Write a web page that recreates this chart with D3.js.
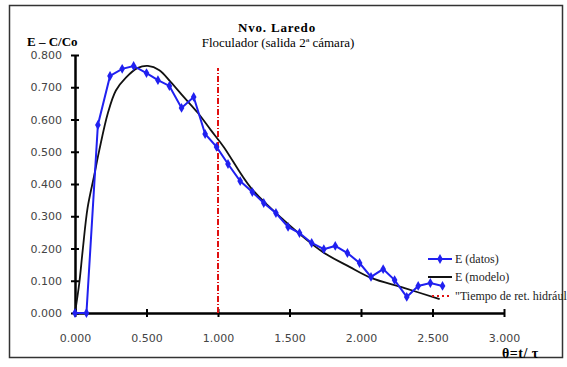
<!DOCTYPE html>
<html><head><meta charset="utf-8">
<script src="https://cdn.jsdelivr.net/npm/d3@7"></script>
<style>body{margin:0;background:#fff;}svg{display:block;}</style>
</head><body>
<svg id="c" width="567" height="367"></svg>
<script>
const datosX = [0,0.08,0.16,0.245,0.33,0.41,0.50,0.58,0.66,0.745,0.83,0.91,0.99,1.07,1.155,1.24,1.32,1.405,1.49,1.57,1.655,1.74,1.82,1.905,1.99,2.07,2.155,2.235,2.32,2.40,2.485,2.57];
const datosY = [0,0,0.583,0.735,0.757,0.766,0.744,0.722,0.704,0.636,0.670,0.555,0.515,0.462,0.409,0.375,0.341,0.310,0.267,0.248,0.217,0.198,0.208,0.186,0.155,0.112,0.136,0.102,0.050,0.084,0.093,0.084];
const modeloX = [0,0.03,0.054,0.088,0.135,0.17,0.23,0.286,0.356,0.44,0.51,0.59,0.67,0.76,0.86,0.95,1.04,1.23,1.46,1.73,1.92,2.07,2.30,2.55];
const modeloY = [0,0.093,0.195,0.326,0.428,0.505,0.62,0.69,0.73,0.76,0.766,0.753,0.716,0.67,0.62,0.567,0.515,0.388,0.288,0.19,0.143,0.109,0.078,0.043];
const tiempoX = [1.0,1.0];
const tiempoY = [0,0.76];
const xTicks = [0,0.5,1.0,1.5,2.0,2.5,3.0];
const yTicks = [0,0.1,0.2,0.3,0.4,0.5,0.6,0.7,0.8];
const legendLabels = ["E (datos)","E (modelo)","\"Tiempo de ret. hidráulico\""];

const svg = d3.select("#c");
const x = d3.scaleLinear().domain([0,3]).range([75,504]);
const y = d3.scaleLinear().domain([0,0.8]).range([313,55]);

// frame
svg.append("rect").attr("x",9.5).attr("y",5.5).attr("width",553).attr("height",352)
  .attr("fill","none").attr("stroke","#333").attr("stroke-width",1.5);

const serif = "'Liberation Serif','Times New Roman',serif";
const sans = "'DejaVu Sans',Verdana,sans-serif";

// axes
const yAxis = d3.axisLeft(y).tickValues(yTicks).tickFormat(d3.format(".3f")).tickSizeInner(4).tickSizeOuter(0).tickPadding(7);
const gy = svg.append("g").attr("transform",`translate(${x(0)},0)`).call(yAxis);
const xAxis = d3.axisBottom(x).tickValues(xTicks).tickFormat(d3.format(".3f")).tickSizeInner(4).tickSizeOuter(0).tickPadding(23);
const gx = svg.append("g").attr("transform",`translate(0,${y(0)})`).call(xAxis);
[gy,gx].forEach(g=>{
  g.select(".domain").attr("stroke","#000").attr("stroke-width",2.5);
  g.selectAll(".tick line").attr("stroke","#000").attr("stroke-width",2);
  g.selectAll(".tick text").attr("fill","#444").attr("font-family",sans).attr("font-size",11);
});
gy.selectAll(".tick line").attr("x1",4);
gx.selectAll(".tick line").attr("y1",-4);
gx.selectAll(".tick text").attr("dy","0.2em");
gy.selectAll(".tick text").attr("dx","-2");

const line = d3.line().x(d=>x(d[0])).y(d=>y(d[1]));
// red line
svg.append("path").datum(d3.zip(tiempoX,tiempoY)).attr("d",line)
  .attr("stroke","#e01010").attr("stroke-width",2).attr("fill","none").attr("stroke-dasharray","6,2,1,2");
// model
const lm = d3.line().x(d=>x(d[0])).y(d=>y(d[1])).curve(d3.curveCatmullRom);
svg.append("path").datum(d3.zip(modeloX,modeloY)).attr("d",lm)
  .attr("stroke","#111").attr("stroke-width",1.8).attr("fill","none");
// datos
svg.append("path").datum(d3.zip(datosX,datosY)).attr("d",line)
  .attr("stroke","#2020f0").attr("stroke-width",2).attr("fill","none");
const sym = d3.symbol().type(d3.symbolDiamond).size(28);
svg.append("g").selectAll("path").data(d3.zip(datosX,datosY)).join("path")
  .attr("d",sym).attr("transform",d=>`translate(${x(d[0])},${y(d[1])})`).attr("fill","#2020f0");

// titles
svg.append("text").attr("x",277).attr("y",32).attr("text-anchor","middle")
  .attr("font-family",serif).attr("font-weight","bold").attr("font-size",13).attr("letter-spacing","0.8").text("Nvo. Laredo");
svg.append("text").attr("x",278).attr("y",47).attr("text-anchor","middle")
  .attr("font-family",serif).attr("font-size",13).text("Floculador (salida 2ª cámara)");
svg.append("text").attr("x",27).attr("y",46)
  .attr("font-family",serif).attr("font-weight","bold").attr("font-size",13).text("E – C/Co");
svg.append("text").attr("x",502).attr("y",358)
  .attr("font-family",serif).attr("font-weight","bold").attr("font-size",14).attr("letter-spacing","0.5").text("θ=t/ τ");

// legend
const lg = svg.append("g");
const ly = [259,277,296];
lg.append("line").attr("x1",428).attr("x2",452).attr("y1",ly[0]).attr("y2",ly[0]).attr("stroke","#2020f0").attr("stroke-width",2);
lg.append("path").attr("d",sym).attr("transform",`translate(440,${ly[0]})`).attr("fill","#2020f0");
lg.append("line").attr("x1",428).attr("x2",452).attr("y1",ly[1]).attr("y2",ly[1]).attr("stroke","#111").attr("stroke-width",2);
lg.append("line").attr("x1",432).attr("x2",452).attr("y1",ly[2]).attr("y2",ly[2]).attr("stroke","#e01010").attr("stroke-width",2).attr("stroke-dasharray","2,3");
legendLabels.forEach((t,i)=>{
  lg.append("text").attr("x",455).attr("y",ly[i]).attr("dy","0.35em")
    .attr("font-family",serif).attr("font-size",12).attr("fill","#222").text(t);
});
</script>
</body></html>
